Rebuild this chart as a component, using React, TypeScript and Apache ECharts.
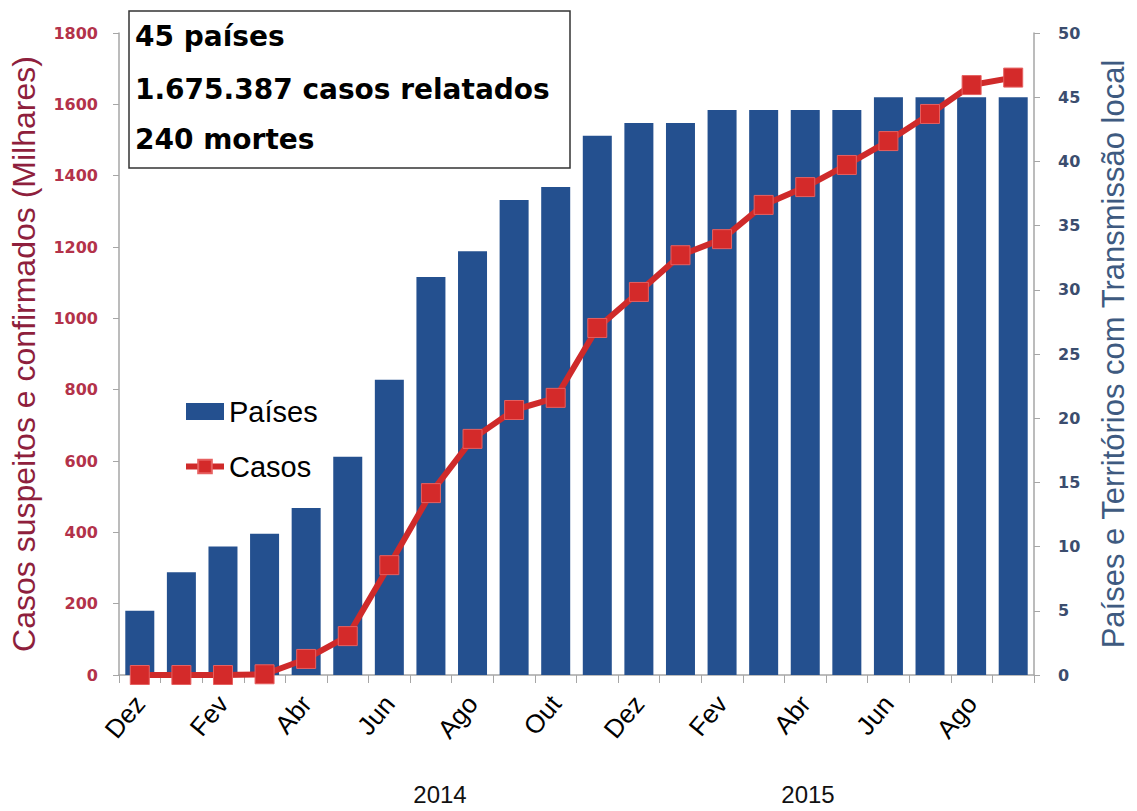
import React, { useEffect, useRef } from "react";
import * as echarts from "echarts";

// Monthly categories, Dec 2013 to Sep 2015
const months = [
  "Dez", "Jan", "Fev", "Mar", "Abr", "Mai", "Jun", "Jul", "Ago", "Set", "Out", "Nov",
  "Dez", "Jan", "Fev", "Mar", "Abr", "Mai", "Jun", "Jul", "Ago", "Set",
];

// Countries and territories with local transmission (right axis)
const paises = [5, 8, 10, 11, 13, 17, 23, 31, 33, 37, 38, 42, 43, 43, 44, 44, 44, 44, 45, 45, 45, 45];

// Cumulative suspected and confirmed cases, in thousands (left axis)
const casos = [0, 0, 0, 2, 45, 109, 308, 510, 662, 743, 777, 973, 1074, 1177, 1222, 1318, 1368, 1430, 1497, 1573, 1654, 1675];

const yearLabels = ["2014", "2015"];
const summaryLines = ["45 países", "1.675.387 casos relatados", "240 mortes"];

const leftAxisName = "Casos suspeitos e confirmados (Milhares)";
const rightAxisName = "Países e Territórios com Transmissão local";

export default function App() {
  const ref = useRef<HTMLDivElement>(null);

  useEffect(() => {
    document.body.style.margin = "0";
    if (!ref.current) return;
    const chart = echarts.init(ref.current, null, { renderer: "svg" });

    const axisGray = "#a6a6a6";

    chart.setOption({
      animation: false,
      backgroundColor: "#ffffff",
      grid: { left: 114, right: 93, top: 33, bottom: 136 },
      legend: {
        orient: "vertical",
        left: 178,
        top: 392,
        itemGap: 26,
        itemWidth: 38,
        itemHeight: 17,
        textStyle: { fontSize: 29, fontFamily: "Liberation Sans, Arial, sans-serif", color: "#000" },
        data: [
          { name: "Países", icon: "rect" },
          { name: "Casos", lineStyle: { width: 6 } },
        ],
      },
      xAxis: {
        type: "category",
        data: months,
        boundaryGap: true,
        axisLine: { lineStyle: { color: axisGray, width: 1.5 } },
        axisTick: { show: true, interval: 0, length: 8, lineStyle: { color: axisGray } },
        axisLabel: {
          interval: 1,
          rotate: 50,
          fontSize: 26,
          margin: 24,
          color: "#000",
          fontFamily: "Liberation Sans, Arial, sans-serif",
        },
      },
      yAxis: [
        {
          type: "value",
          position: "left",
          min: 0,
          max: 1800,
          interval: 200,
          name: leftAxisName,
          nameLocation: "middle",
          nameGap: 79,
          nameTextStyle: {
            fontSize: 32,
            color: "#8e1f3d",
            fontFamily: "Liberation Sans, Arial, sans-serif",
          },
          axisLine: { show: true, lineStyle: { color: axisGray, width: 1.5 } },
          axisTick: { show: true, length: 6, lineStyle: { color: axisGray } },
          splitLine: { show: false },
          axisLabel: {
            formatter: (v: number) => String(v),
            color: "#b3324a",
            fontWeight: "bold",
            fontSize: 16,
            fontFamily: "DejaVu Sans, sans-serif",
            margin: 21,
          },
        },
        {
          type: "value",
          position: "right",
          min: 0,
          max: 50,
          interval: 5,
          name: rightAxisName,
          nameLocation: "middle",
          nameGap: 64,
          nameTextStyle: {
            fontSize: 31,
            color: "#3e5a80",
            fontFamily: "Liberation Sans, Arial, sans-serif",
          },
          axisLine: { show: true, lineStyle: { color: axisGray, width: 1.5 } },
          axisTick: { show: true, length: 6, lineStyle: { color: axisGray } },
          splitLine: { show: false },
          axisLabel: {
            color: "#3b4d6e",
            fontWeight: "bold",
            fontSize: 16,
            fontFamily: "DejaVu Sans, sans-serif",
            margin: 24,
          },
        },
      ],
      series: [
        {
          name: "Países",
          type: "bar",
          yAxisIndex: 1,
          data: paises,
          barWidth: 29,
          itemStyle: { color: "#24508f" },
        },
        {
          name: "Casos",
          type: "line",
          yAxisIndex: 0,
          data: casos,
          symbol: "rect",
          symbolSize: 19,
          lineStyle: { color: "#cf2a2a", width: 6 },
          itemStyle: { color: "#d42a2a", borderColor: "#e66060", borderWidth: 1 },
          z: 5,
        },
      ],
      graphic: [
        {
          type: "rect",
          shape: { x: 129, y: 11, width: 441, height: 157 },
          style: { fill: "#ffffff", stroke: "#333333", lineWidth: 1.5 },
          z: 10,
        },
        ...summaryLines.map((t, i) => ({
          type: "text",
          x: 135,
          y: [36, 89, 139][i],
          z: 11,
          style: {
            text: t,
            fontSize: 28,
            fontWeight: "bold",
            fontFamily: "DejaVu Sans, sans-serif",
            fill: "#000",
            textVerticalAlign: "middle",
          },
        })),
        ...yearLabels.map((t, i) => ({
          type: "text",
          x: [440, 808][i],
          y: 794,
          style: {
            text: t,
            fontSize: 24,
            fontFamily: "Liberation Sans, Arial, sans-serif",
            fill: "#111",
            textAlign: "center",
            textVerticalAlign: "middle",
          },
        })),
      ],
    });

    return () => chart.dispose();
  }, []);

  return <div ref={ref} style={{ width: 1137, height: 811 }} />;
}
